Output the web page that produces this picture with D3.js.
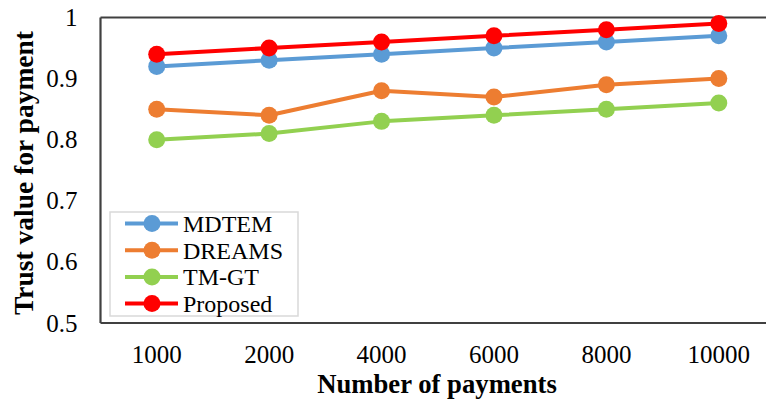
<!DOCTYPE html>
<html>
<head>
<meta charset="utf-8">
<script src="https://cdn.jsdelivr.net/npm/d3@7"></script>
<style>
  html, body { margin: 0; padding: 0; background: #fff; }
  svg { display: block; }
  svg text { font-family: "Liberation Serif", "Times New Roman", serif !important; fill: #000; }
</style>
</head>
<body>
<svg id="chart" width="766" height="401"></svg>
<script>
// Payments processed (x categories)
const categories = ["1000", "2000", "4000", "6000", "8000", "10000"];

// Trust value for each scheme
const mdtem    = [0.92, 0.93, 0.94, 0.95, 0.96, 0.97];
const dreams   = [0.85, 0.84, 0.88, 0.87, 0.89, 0.90];
const tmgt     = [0.80, 0.81, 0.83, 0.84, 0.85, 0.86];
const proposed = [0.94, 0.95, 0.96, 0.97, 0.98, 0.99];

const seriesNames = ["MDTEM", "DREAMS", "TM-GT", "Proposed"];
const seriesValues = [mdtem, dreams, tmgt, proposed];
const seriesColors = ["#5B9BD5", "#ED7D31", "#92D050", "#FF0000"];

const yTicks = [0.5, 0.6, 0.7, 0.8, 0.9, 1];

const svg = d3.select("#chart");
const margin = { left: 100.5, top: 17.5, right: -9, bottom: 78 };
const W = 766, H = 401;
const plotW = W - margin.left - margin.right;
const plotH = H - margin.top - margin.bottom;

const x = d3.scaleBand().domain(categories).range([margin.left, margin.left + plotW]);
const y = d3.scaleLinear().domain([0.5, 1]).range([margin.top + plotH, margin.top]);

// Frame: left, top and bottom edges of the plot area
const frame = svg.append("g").attr("stroke", "#404040").attr("stroke-width", 2.2).attr("fill", "none");
frame.append("line").attr("x1", margin.left).attr("x2", margin.left)
  .attr("y1", y(1)).attr("y2", y(0.5));
frame.append("line").attr("x1", margin.left).attr("x2", W)
  .attr("y1", y(1)).attr("y2", y(1));
frame.append("line").attr("x1", margin.left).attr("x2", W)
  .attr("y1", y(0.5)).attr("y2", y(0.5));

// Y axis labels
const yAxis = d3.axisLeft(y).tickValues(yTicks).tickSize(0).tickPadding(23)
  .tickFormat(d => d === 1 ? "1" : d3.format(".1f")(d));
const ya = svg.append("g").attr("transform", `translate(${margin.left},0)`).call(yAxis);
ya.select(".domain").remove();
ya.selectAll("text").attr("font-size", 25).attr("fill", "#000");

// X axis labels
const xAxis = d3.axisBottom(x).tickSize(0).tickPadding(22);
const xa = svg.append("g").attr("transform", `translate(0,${y(0.5)})`).call(xAxis);
xa.select(".domain").remove();
xa.selectAll("text").attr("font-size", 25).attr("fill", "#000");

// Axis titles
svg.append("text")
  .attr("x", 437).attr("y", 393)
  .attr("text-anchor", "middle")
  .attr("font-size", 26.7).attr("font-weight", "bold")
  .text("Number of payments");
svg.append("text")
  .attr("transform", "translate(33,173) rotate(-90)")
  .attr("text-anchor", "middle")
  .attr("font-size", 27.5).attr("font-weight", "bold")
  .text("Trust value for payment");

// Series lines and markers
const line = d3.line()
  .x((d, i) => x(categories[i]) + x.bandwidth() / 2)
  .y(d => y(d));

seriesValues.forEach((vals, s) => {
  const g = svg.append("g");
  g.append("path").datum(vals)
    .attr("d", line)
    .attr("fill", "none")
    .attr("stroke", seriesColors[s])
    .attr("stroke-width", 4)
    .attr("stroke-linejoin", "round");
  g.selectAll("circle").data(vals).join("circle")
    .attr("cx", (d, i) => x(categories[i]) + x.bandwidth() / 2)
    .attr("cy", d => y(d))
    .attr("r", 8.5)
    .attr("fill", seriesColors[s]);
});

// Legend
const legend = svg.append("g");
legend.append("rect")
  .attr("x", 110).attr("y", 212).attr("width", 188).attr("height", 104)
  .attr("fill", "#fff").attr("stroke", "#d9d9d9").attr("stroke-width", 1.5);
seriesNames.forEach((name, i) => {
  const cy = 223.5 + i * 26.7;
  legend.append("line").attr("x1", 125).attr("x2", 178).attr("y1", cy).attr("y2", cy)
    .attr("stroke", seriesColors[i]).attr("stroke-width", 4);
  legend.append("circle").attr("cx", 152).attr("cy", cy).attr("r", 8.5).attr("fill", seriesColors[i]);
  legend.append("text").attr("x", 183).attr("y", cy).attr("dy", "0.35em")
    .attr("font-size", 24).text(name);
});
</script>
</body>
</html>
